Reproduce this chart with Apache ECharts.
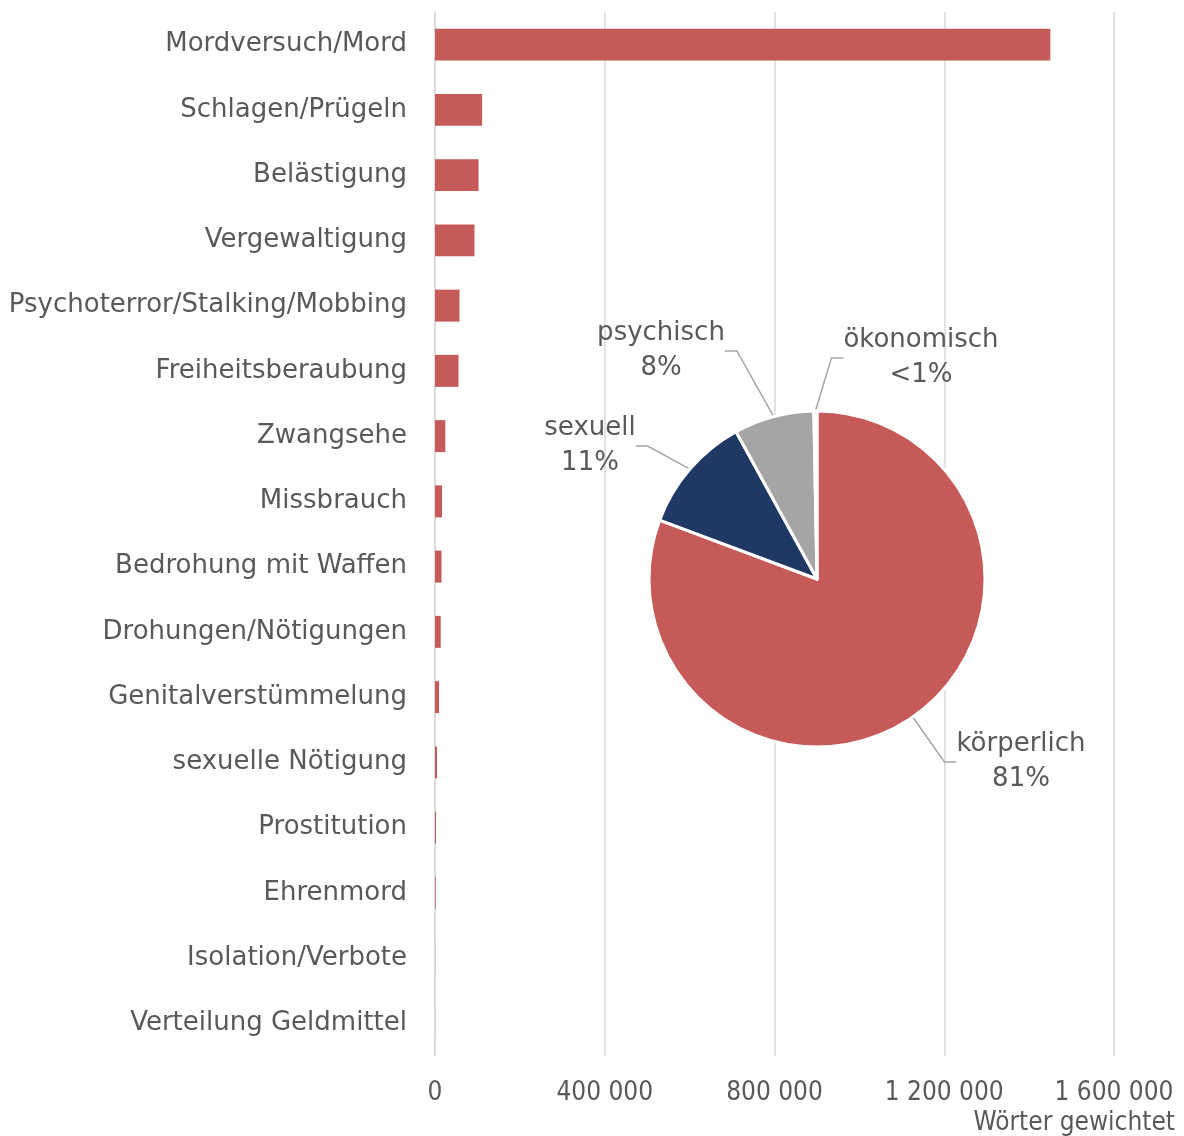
<!DOCTYPE html>
<html>
<head>
<meta charset="utf-8">
<script src="https://cdn.jsdelivr.net/npm/echarts@6/dist/echarts.min.js"></script>
<style>
  html, body { margin: 0; padding: 0; background: #fff; }
  #chart { width: 1184px; height: 1136px; }
</style>
</head>
<body>
<div id="chart"></div>
<script>
// Kategorien (oben -> unten)
const categories = [
  "Mordversuch/Mord",
  "Schlagen/Prügeln",
  "Belästigung",
  "Vergewaltigung",
  "Psychoterror/Stalking/Mobbing",
  "Freiheitsberaubung",
  "Zwangsehe",
  "Missbrauch",
  "Bedrohung mit Waffen",
  "Drohungen/Nötigungen",
  "Genitalverstümmelung",
  "sexuelle Nötigung",
  "Prostitution",
  "Ehrenmord",
  "Isolation/Verbote",
  "Verteilung Geldmittel",
];
// Wörter gewichtet
const values = [
  1450000, 111000, 102600, 93000, 57800, 55400, 24300, 16500,
  15300, 13400, 9400, 4700, 2400, 1600, 300, 150,
];
const xTicks = [0, 400000, 800000, 1200000, 1600000];

// Gewaltformen (Kreis)
const pieNames = ["körperlich", "sexuell", "psychisch", "ökonomisch"];
const pieValues = [80.7, 11.3, 7.7, 0.3];
const pieLabels = ["81%", "11%", "8%", "<1%"];

const textColor = "#595959";
const labelPos = [
  [1021, 762],
  [590, 446],
  [661, 351],
  [921, 358],
];

const myChart = echarts.init(document.getElementById("chart"));
const fmt = (v) => String(v).replace(/\B(?=(\d{3})+(?!\d))/g, " ");

const option = {
  animation: false,
  title: {
    text: "Wörter gewichtet",
    right: 9,
    top: 1110,
    textStyle: {
      fontFamily: "DejaVu Sans Condensed",
      fontSize: 26,
      fontWeight: "normal",
      color: textColor,
    },
    padding: 0,
  },
  grid: {
    left: 435,
    right: 70,
    top: 12,
    bottom: 80,
  },
  xAxis: {
    type: "value",
    min: xTicks[0],
    max: xTicks[xTicks.length - 1],
    interval: xTicks[1] - xTicks[0],
    axisLine: { show: false },
    axisTick: { show: false },
    splitLine: {
      show: true,
      lineStyle: { color: "#d9d9d9", width: 1.5 },
    },
    axisLabel: {
      color: textColor,
      fontFamily: "DejaVu Sans Condensed",
      fontSize: 26,
      margin: 24,
      formatter: fmt,
    },
  },
  yAxis: {
    type: "category",
    inverse: true,
    data: categories,
    axisLine: { show: true, lineStyle: { color: "#d9d9d9", width: 1.5 } },
    axisTick: { show: false },
    axisLabel: {
      color: textColor,
      fontFamily: "DejaVu Sans",
      fontSize: 26,
      margin: 28,
    },
  },
  series: [
    {
      type: "bar",
      data: values,
      barWidth: "49%",
      itemStyle: { color: "#C55A58" },
      silent: true,
    },
    {
      type: "pie",
      center: [817, 579],
      radius: 168,
      startAngle: 90,
      clockwise: true,
      data: pieNames.map((n, i) => ({ name: n, value: pieValues[i] })),
      color: ["#C55A58", "#203864", "#A5A5A5", "#7F7F7F"],
      itemStyle: { borderColor: "#fff", borderWidth: 3 },
      label: {
        show: true,
        position: "outside",
        color: textColor,
        fontFamily: "DejaVu Sans",
        fontSize: 26,
        lineHeight: 35,
        align: "center",
        formatter: (p) => p.name + "\n" + pieLabels[p.dataIndex],
      },
      labelLine: {
        show: true,
        length: 20,
        length2: 12,
        lineStyle: { color: "#A6A6A6", width: 1.5 },
      },
      labelLayout: (p) => ({
        x: labelPos[p.dataIndex][0],
        y: labelPos[p.dataIndex][1],
        align: "center",
        verticalAlign: "middle",
      }),
    },
  ],
};
myChart.setOption(option);
window.addEventListener("resize", function () {
  myChart.resize();
});
</script>
</body>
</html>
